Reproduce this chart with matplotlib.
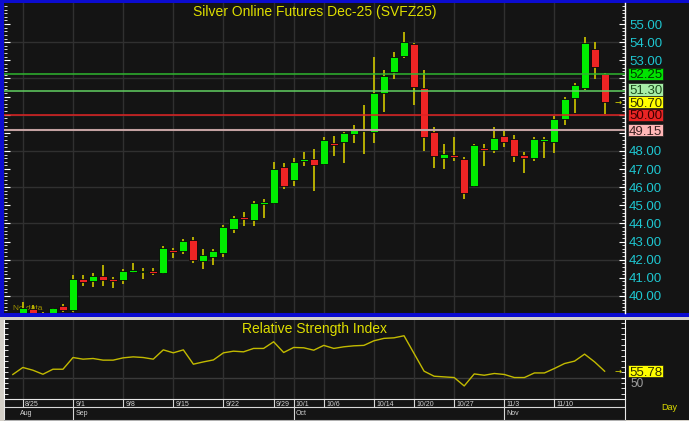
import matplotlib
matplotlib.use('Agg')
import matplotlib.pyplot as plt
import matplotlib.transforms as mtransforms
from matplotlib.patches import Rectangle
from matplotlib.ticker import MultipleLocator, FixedLocator, FuncFormatter
import numpy as np

plt.rcParams['font.family'] = ['Liberation Sans', 'DejaVu Sans']

# ---------------- data ----------------
first_slot = -1   # 8/22
opens = [38.70, 38.95, 39.26, 39.05, 38.90, 39.45, 39.23, 40.95, 40.84, 41.10,
         40.95, 40.86, 41.34, 41.30, 41.39, 41.27, 42.56, 42.46, 43.10, 41.91,
         42.17, 42.35, 43.71, 44.37, 44.17, 45.09, 45.11, 47.11, 46.38, 47.43,
         47.57, 47.29, 48.44, 48.49, 48.95, 49.10, 49.04, 51.21, 52.37, 53.24,
         53.88, 51.49, 49.03, 47.59, 47.77, 47.54, 46.08, 48.18, 48.03, 48.82,
         48.64, 47.77, 47.59, 48.56, 48.49, 49.78, 50.90, 51.45, 53.60, 52.26]
highs = [39.00, 39.65, 39.49, 39.10, 39.36, 39.57, 41.14, 41.14, 41.25, 41.69,
         41.06, 41.49, 41.80, 41.54, 41.54, 42.76, 42.66, 43.14, 43.27, 42.57,
         42.61, 43.93, 44.41, 44.63, 45.22, 45.36, 47.39, 47.32, 47.61, 47.94,
         48.09, 48.78, 48.81, 49.06, 49.45, 50.55, 53.18, 52.46, 53.44, 54.56,
         53.94, 52.46, 49.30, 48.38, 48.75, 47.68, 48.38, 48.38, 49.30, 49.08,
         48.88, 47.94, 48.75, 48.75, 49.94, 50.96, 51.76, 54.28, 54.01, 52.30]
lows = [38.50, 38.85, 39.00, 38.70, 38.80, 39.10, 39.10, 40.55, 40.48, 40.55,
        40.44, 40.64, 41.28, 40.95, 41.17, 41.21, 42.11, 42.30, 41.83, 41.50,
        41.69, 42.17, 43.46, 43.86, 43.88, 44.32, 45.09, 45.92, 46.08, 47.18,
        45.77, 47.24, 47.72, 47.32, 48.44, 47.83, 48.44, 50.15, 51.95, 53.11,
        50.52, 48.00, 47.07, 47.02, 47.43, 45.33, 46.00, 47.18, 47.89, 48.23,
        47.37, 46.78, 47.43, 47.59, 47.89, 49.45, 50.11, 51.34, 51.95, 50.04]
closes = [38.90, 39.34, 39.07, 38.85, 39.34, 39.23, 40.95, 40.75, 41.10, 40.88,
          40.82, 41.36, 41.43, 41.39, 41.27, 42.65, 42.42, 43.05, 41.97, 42.26,
          42.46, 43.80, 44.32, 44.23, 45.11, 45.18, 47.02, 46.08, 47.39, 47.54,
          47.24, 48.59, 48.33, 48.97, 49.15, 49.19, 51.19, 52.15, 53.16, 54.01,
          51.53, 48.78, 47.70, 47.83, 47.65, 45.70, 48.33, 48.07, 48.71, 48.51,
          47.74, 47.63, 48.64, 48.66, 49.78, 50.85, 51.64, 53.95, 52.63, 50.70]
rsi = [52.8, 59.2, 56.7, 53.0, 57.6, 57.6, 68.3, 66.8, 67.4, 65.9,
       65.9, 68.0, 68.9, 68.3, 66.8, 75.3, 72.6, 75.3, 62.2, 64.3,
       66.1, 72.6, 74.1, 73.5, 76.6, 76.6, 82.7, 72.9, 77.5, 77.2,
       75.0, 79.4, 76.6, 78.1, 79.0, 79.4, 83.6, 85.8, 86.3, 88.2,
       72.0, 55.8, 51.2, 50.6, 50.0, 42.3, 53.3, 52.1, 53.7, 52.8,
       50.0, 50.0, 54.2, 54.2, 58.3, 62.8, 65.0, 71.4, 64.3, 55.78]

date_labels = ['8/25', '9/1', '9/8', '9/15', '9/22', '9/29', '10/1', '10/6',
               '10/14', '10/20', '10/27', '11/3', '11/10']
date_slots = [0, 5, 10, 15, 20, 25, 27, 30, 35, 39, 43, 48, 53]
month_labels = ['Aug', 'Sep', 'Oct', 'Nov']
month_slots = [-0.55, 5, 27, 48]

price_labels = [40, 41, 42, 43, 44, 45, 46, 47, 48, 49, 50, 51, 52, 53, 54, 55]
hidden_price_labels = [49, 50, 51, 52]   # covered by the level boxes

level_values = [52.25, 51.30, 50.00, 49.15]
level_line_colors = ['#2fb52f', '#62d062', '#e02222', '#c4a2a2']
level_box_colors = ['#00e400', '#a6eea6', '#e82424', '#ffb6b6']
level_text_colors = ['#003800', '#1d4d1d', '#3a0000', '#3a2020']
level_box_shift = [0.0, 0.09, 0.0, 0.0]   # label nudges (layout only)
last_price = 50.70
last_rsi = 55.78
rsi_mid = 50

title = 'Silver Online Futures Dec-25 (SVFZ25)'
rsi_title = 'Relative Strength Index'

# ---------------- style ----------------
BG = '#141414'
GRID = '#303030'
CYAN = '#1ec6d0'
YEL = '#dede00'
WICK = '#c2ba00'
UP = '#00ee00'
DOWN = '#ee2424'

W, H = 689, 421
fig = plt.figure(figsize=(W / 100, H / 100), dpi=100)
fig.patch.set_facecolor('#d4d0c8')


def rect_px(x0, y0, x1, y1):
    return [x0 / W, 1 - y1 / H, (x1 - x0) / W, (y1 - y0) / H]


bg = fig.add_axes([0, 0, 1, 1], zorder=0)
bg.set_xlim(0, W)
bg.set_ylim(H, 0)
bg.axis('off')
bg.add_patch(Rectangle((0, 0), W, 316.5, fc='#0c0cd0', ec='none'))
bg.add_patch(Rectangle((3.5, 2.5), W - 3.5, 310.5, fc=BG, ec='none'))
bg.add_patch(Rectangle((4, 320), W - 4, 99.5, fc=BG, ec='none'))
bg.text(669, 408, 'Day', color=YEL, fontsize=6.5, ha='center', va='center')

# ---------------- main price panel ----------------
ax = fig.add_axes(rect_px(4, 2.5, 625, 313), zorder=1)
ax.set_facecolor(BG)
ax.set_xlim(-1.88, 60.03)
ax.set_ylim(39.06, 56.19)

slots = np.arange(first_slot, first_slot + len(closes))
o = np.array(opens); c = np.array(closes)
hi = np.array(highs); lo = np.array(lows)
up = c >= o
bottom = np.minimum(o, c)
height = np.maximum(np.abs(c - o), 0.1)
bottom = np.where(np.abs(c - o) < 0.1, (o + c) / 2 - 0.05, bottom)

for s in ['top', 'bottom', 'left']:
    ax.spines[s].set_visible(False)
ax.spines['right'].set_color('white')
ax.spines['right'].set_linewidth(1.0)

ax.set_xticks(date_slots)
ax.tick_params(axis='x', which='both', bottom=False, labelbottom=False)
ax.xaxis.grid(True, color=GRID, lw=1.0, zorder=0)
ax.set_axisbelow(True)

ax.yaxis.set_major_locator(FixedLocator(price_labels))
ax.yaxis.set_minor_locator(MultipleLocator(0.2))
ax.yaxis.set_major_formatter(FuncFormatter(
    lambda v, p: '' if round(v) in hidden_price_labels else f'{v:.2f}'))
ax.tick_params(axis='y', which='both', left=True, right=True, labelleft=False,
               labelright=True, direction='in', color='white', labelcolor=CYAN,
               labelsize=9.5, pad=3)
ax.tick_params(axis='y', which='major', length=4, width=0.8)
ax.tick_params(axis='y', which='minor', length=2, width=0.6)
for yv in np.arange(40, 56, 2):
    ax.axhline(yv, color=GRID, lw=1.0, zorder=0.5)

ax.text(-1.0, 39.12, 'No data', color='#a09200', fontsize=6, ha='left', va='bottom', zorder=1)

ax.vlines(slots, lo, hi, color=WICK, lw=1.3, zorder=3)
ax.bar(slots, height, bottom=bottom, width=0.8,
       color=np.where(up, UP, DOWN), edgecolor='#080808', linewidth=0.6, zorder=4)

for v, lc in zip(level_values, level_line_colors):
    ax.axhline(v, color=lc, lw=1.5 if v == 49.15 else 1.1, zorder=5)

trans = mtransforms.blended_transform_factory(ax.transAxes, ax.transData)
bx0 = (627.6 - 4) / 621
bw = (663.4 - 627.6) / 621
bh = 12.4 / 18.13


def price_box(a, tr, v, fc, tc, txt):
    a.add_patch(Rectangle((bx0, v - bh / 2), bw, bh, transform=tr, fc=fc,
                          ec='#1a1a1a', lw=0.5, clip_on=False, zorder=10))
    a.text(bx0 + 1.5 / 621, v, txt, transform=tr, color=tc, fontsize=9.5,
           ha='left', va='center_baseline', clip_on=False, zorder=11)


for v, fc, tc, sh in zip(level_values, level_box_colors, level_text_colors, level_box_shift):
    price_box(ax, trans, v + sh, fc, tc, f'{v:.2f}')
price_box(ax, trans, last_price, '#ffff00', '#303000', f'{last_price:.2f}')
ax.text((618 - 4) / 621, last_price, '→', transform=trans, color=YEL,
        fontsize=6, ha='center', va='center', family='DejaVu Sans', zorder=9)

ax.text(0.5, 0.969, title, transform=ax.transAxes, color=YEL, fontsize=10,
        ha='center', va='center', zorder=8)

# ---------------- RSI panel ----------------
rax = fig.add_axes(rect_px(4, 320, 625, 399.3), sharex=ax, zorder=1)
rax.set_facecolor(BG)
rax.set_ylim(30.1, 102.6)
rax.spines['top'].set_visible(False)
rax.spines['bottom'].set_visible(False)
rax.spines['left'].set_color('white')
rax.spines['right'].set_color('white')
rax.xaxis.grid(True, color=GRID, lw=1.0, zorder=0)
rax.set_axisbelow(True)
rax.tick_params(axis='x', which='both', bottom=False, labelbottom=False)
rax.yaxis.set_major_locator(FixedLocator([rsi_mid]))
rax.yaxis.set_minor_locator(MultipleLocator(5))
rax.tick_params(axis='y', which='both', left=True, right=True, labelleft=False,
                labelright=False, direction='in', color='white')
rax.tick_params(axis='y', which='major', length=3)
rax.tick_params(axis='y', which='minor', length=3, width=0.6)
rax.axhline(rsi_mid, color='#3a3a3a', lw=1.0, zorder=0.5)
rax.plot(slots, rsi, color=WICK, lw=1.0, zorder=3)

rtrans = mtransforms.blended_transform_factory(rax.transAxes, rax.transData)
rbh = 12.0 / 1.09
rax.add_patch(Rectangle((bx0, last_rsi - rbh / 2), bw, rbh, transform=rtrans,
                        fc='#ffff00', ec='#1a1a1a', lw=0.5, clip_on=False, zorder=10))
rax.text(bx0 + 1.5 / 621, last_rsi, f'{last_rsi:.2f}', transform=rtrans, color='#303000',
         fontsize=9.5, ha='left', va='center_baseline', clip_on=False, zorder=11)
# the "50" scale label sits just under the value box
rax.text(bx0 + 2.5 / 621, rsi_mid, f'{rsi_mid}', transform=rtrans, color='#a0a0a0',
         fontsize=8.5, ha='left', va='top', clip_on=False, zorder=9)
rax.text((618 - 4) / 621, last_rsi, '→', transform=rtrans, color=YEL,
         fontsize=6, ha='center', va='center', family='DejaVu Sans', zorder=9)
rax.text(0.5, 0.886, rsi_title, transform=rax.transAxes, color=YEL, fontsize=10,
         ha='center', va='center', zorder=8)

# ---------------- date strip ----------------
xax = fig.add_axes(rect_px(4, 399.3, 625, 419.5), sharex=ax, zorder=1)
xax.set_facecolor(BG)
xax.set_ylim(20.2, 0)
xax.tick_params(axis='both', which='both', bottom=False, left=False,
                labelbottom=False, labelleft=False)
for s in ['top', 'left', 'right']:
    xax.spines[s].set_color('#e8e8e8')
xax.spines['bottom'].set_color('#b0b0b0')
xax.axhline(8, color='#d8d8d8', lw=0.8)
xax.vlines(date_slots, 0, 8, color='#d8d8d8', lw=0.8)
xax.vlines(month_slots[1:], 8, 20.2, color='#d8d8d8', lw=0.8)
for s, lab in zip(date_slots, date_labels):
    xax.text(s + 0.22, 4.8, lab, color='#d0d0d0', fontsize=5, ha='left', va='center')
for s, lab in zip(month_slots, month_labels):
    xax.text(s + 0.22, 14.3, lab, color='#d0d0d0', fontsize=5, ha='left', va='center')

fig.savefig('out.png', dpi=100, facecolor=fig.get_facecolor())
